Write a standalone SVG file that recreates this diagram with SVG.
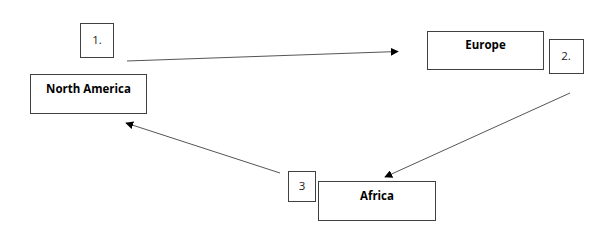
<svg xmlns="http://www.w3.org/2000/svg" width="598" height="238" viewBox="0 0 598 238">
<defs>
<style>
.box{fill:#fff;stroke:#404040;stroke-width:1}
.t{font-family:"Open Sans","Liberation Sans",Arial,sans-serif;font-size:11.5px;font-weight:bold;fill:#000;text-anchor:middle}
.n{font-family:"Open Sans","Liberation Sans",Arial,sans-serif;font-size:11.5px;fill:#222;text-anchor:middle}
.c{stroke:#555;stroke-width:1;fill:none;marker-end:url(#ah)}
</style>
<marker id="ah" viewBox="0 0 10 10" refX="9" refY="5" markerWidth="8" markerHeight="8" markerUnits="userSpaceOnUse" orient="auto">
<path d="M0,0 L10,5 L0,10 Z" fill="#000"/>
</marker>
</defs>
<rect width="598" height="238" fill="#fff"/>
<g id="connectors">
<line class="c" x1="127" y1="61" x2="398" y2="51.5"/>
<line class="c" x1="570" y1="93" x2="385" y2="177"/>
<line class="c" x1="280" y1="173" x2="126" y2="123"/>
</g>
<g id="label1"><rect class="box" x="80.5" y="23.5" width="33" height="34"/><text class="n" x="97" y="43.5">1.</text></g>
<g id="north-america"><rect class="box" x="30.5" y="74.5" width="116" height="39"/><text class="t" x="88.5" y="92.5">North America</text></g>
<g id="europe"><rect class="box" x="427.5" y="31.5" width="116" height="38"/><text class="t" x="485.5" y="48.5">Europe</text></g>
<g id="label2"><rect class="box" x="549.5" y="39.5" width="34" height="34"/><text class="n" x="566" y="59.5">2.</text></g>
<g id="label3"><rect class="box" x="288.5" y="171.5" width="27" height="30"/><text class="n" x="302" y="189.5">3</text></g>
<g id="africa"><rect class="box" x="318.5" y="181.5" width="117" height="39"/><text class="t" x="377" y="200">Africa</text></g>
</svg>
